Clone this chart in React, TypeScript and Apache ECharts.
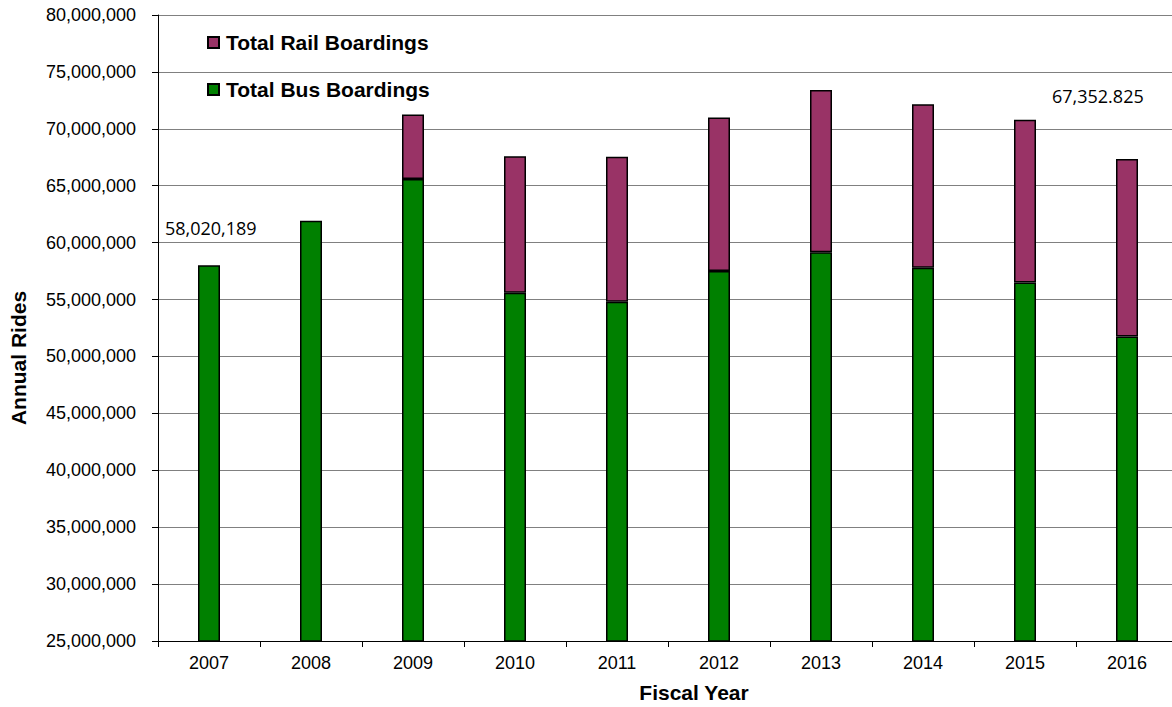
import React, { useEffect, useRef } from "react";
import * as echarts from "echarts";

const years = ["2007", "2008", "2009", "2010", "2011", "2012", "2013", "2014", "2015", "2016"];
const busBoardings = [58020189, 61930000, 65600000, 55600000, 54800000, 57500000, 59150000, 57800000, 56500000, 51750000];
const railBoardings: (number | null)[] = [null, null, 5650000, 12000000, 12750000, 13500000, 14250000, 14350000, 14300000, 15602825];
const annotations = [
  { text: "58,020,189", x: 165, y: 219 },
  { text: "67,352.825", x: 1052, y: 87 },
];

const fmt = (v: number) => v.toLocaleString("en-US");

export default function App() {
  const ref = useRef<HTMLDivElement>(null);
  useEffect(() => {
    document.body.style.margin = "0";
    const chart = echarts.init(ref.current!, undefined, { renderer: "svg" });
    const font = "Arial, 'Liberation Sans', sans-serif";
    chart.setOption({
      animation: false,
      backgroundColor: "#fff",
      grid: { left: 158, right: -6, top: 15, bottom: 66, containLabel: false, outerBoundsMode: "none" },
      legend: {
        orient: "vertical",
        left: 207,
        top: 32,
        padding: 0,
        itemWidth: 11,
        itemHeight: 11,
        itemGap: 26,
        icon: "rect",
        data: ["Total Rail Boardings", "Total Bus Boardings"],
        textStyle: { fontFamily: font, fontWeight: "bold", fontSize: 21, color: "#000", lineHeight: 21, padding: [0, 0, 0, 2] },
      },
      xAxis: {
        type: "category",
        data: years,
        boundaryGap: true,
        name: "Fiscal Year",
        nameLocation: "middle",
        nameGap: 41,
        nameTextStyle: { fontFamily: font, fontWeight: "bold", fontSize: 21, color: "#000", padding: [0, 0, 0, 52] },
        axisLine: { lineStyle: { color: "#000", width: 1 } },
        axisTick: { show: true, length: 6, lineStyle: { color: "#000" } },
        axisLabel: { fontFamily: font, fontSize: 18, color: "#000", margin: 13 },
      },
      yAxis: {
        type: "value",
        min: 25000000,
        max: 80000000,
        interval: 5000000,
        name: "Annual Rides",
        nameLocation: "middle",
        nameRotate: 90,
        nameGap: 129,
        nameTextStyle: { fontFamily: font, fontWeight: "bold", fontSize: 21, color: "#000", padding: [0, 60, 0, 0] },
        axisLine: { show: true, lineStyle: { color: "#000", width: 1 } },
        axisTick: { show: true, length: 6, lineStyle: { color: "#000" } },
        axisLabel: { fontFamily: font, fontSize: 18, color: "#000", margin: 22, formatter: (v: number) => fmt(v) },
        splitLine: { show: true, lineStyle: { color: "#808080", width: 1 } },
      },
      series: [
        {
          name: "Total Bus Boardings",
          type: "bar",
          stack: "total",
          barWidth: 22,
          data: busBoardings,
          itemStyle: { color: "#008000", borderColor: "#000", borderWidth: 1.5 },
        },
        {
          name: "Total Rail Boardings",
          type: "bar",
          stack: "total",
          barWidth: 22,
          data: railBoardings,
          itemStyle: { color: "#993366", borderColor: "#000", borderWidth: 1.5 },
        },
      ],
      graphic: annotations.map((a) => ({
        type: "text",
        left: a.x,
        top: a.y,
        style: { text: a.text, fontFamily: "'Open Sans', sans-serif", fontSize: 18, fill: "#000" },
      })),
    });
    return () => chart.dispose();
  }, []);
  return <div ref={ref} style={{ position: "fixed", left: 0, top: 0, width: 1172, height: 707 }} />;
}
